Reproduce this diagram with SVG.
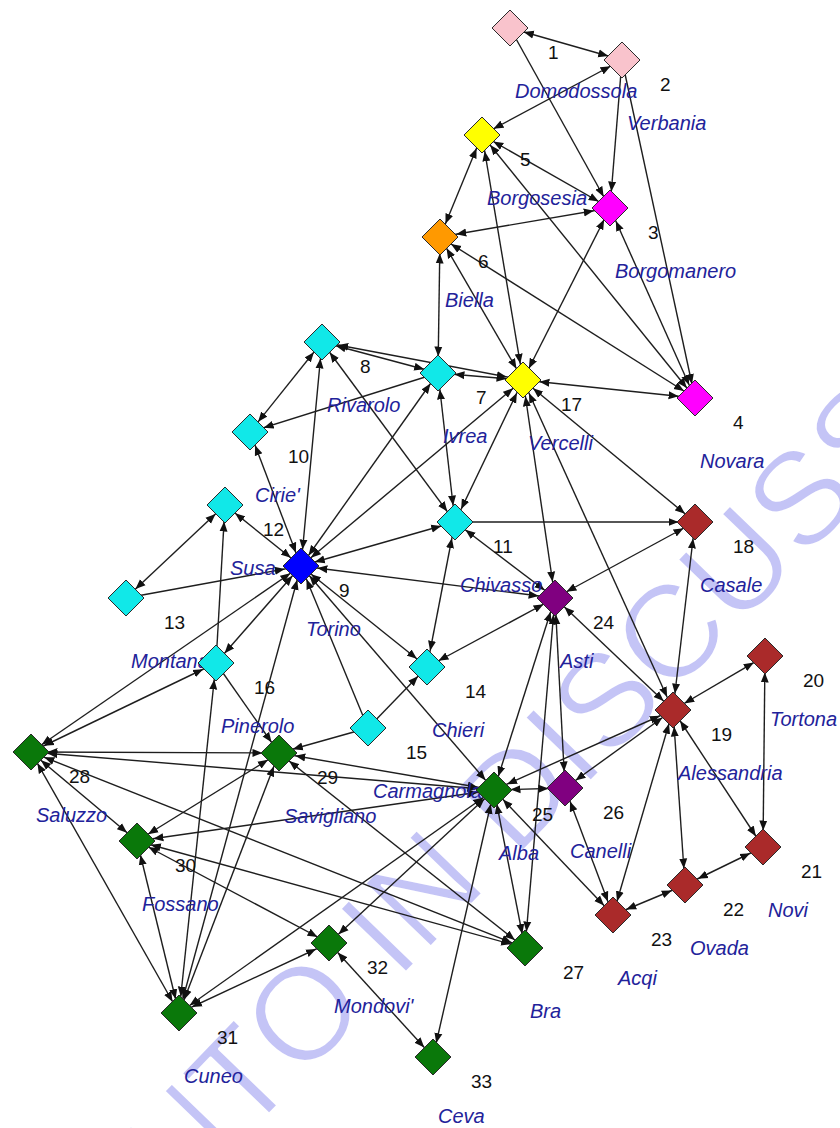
<svg xmlns="http://www.w3.org/2000/svg" width="840" height="1128" viewBox="0 0 840 1128">
<style>
.wm{font-family:"Liberation Sans",Arial,sans-serif;font-size:133px;fill:#c4c4f6;stroke:#fff;stroke-width:2.5;stroke-linejoin:round}
.e line{stroke:#1e1e1e;stroke-width:1.4;fill:none}
.h{marker-end:url(#mh)}.m{marker-end:url(#mm)}.a{marker-end:url(#ma)}
.d.h{marker-start:url(#mh)}.d.m{marker-start:url(#mm)}.d.a{marker-start:url(#ma)}
.node use{stroke:#2a2a2a;stroke-width:1}
.nm{font-family:"Liberation Sans",Arial,sans-serif;font-style:italic;font-size:20px;fill:#22229a}
.no{font-family:"Liberation Sans",Arial,sans-serif;font-size:19px;fill:#111}
.pk{fill:#f9c3cc}.mg{fill:#ff00ff}.yl{fill:#ffff00}.or{fill:#ff9900}.cy{fill:#11e8e8}.bl{fill:#0000ff}.pu{fill:#800080}.br{fill:#aa2a2a}.gr{fill:#0a780a}
</style>
<defs>
<path id="dm" d="M0,-18 L18,0 L0,18 L-18,0 Z"/>
<marker id="mh" viewBox="0 -4.5 10 9" refX="26.5" refY="0" markerWidth="10" markerHeight="9" markerUnits="userSpaceOnUse" orient="auto-start-reverse"><path d="M0,-4 L10,0 L0,4 Z" fill="#111"/></marker>
<marker id="mm" viewBox="0 -4.5 10 9" refX="24.3" refY="0" markerWidth="10" markerHeight="9" markerUnits="userSpaceOnUse" orient="auto-start-reverse"><path d="M0,-4 L10,0 L0,4 Z" fill="#111"/></marker>
<marker id="ma" viewBox="0 -4.5 10 9" refX="23" refY="0" markerWidth="10" markerHeight="9" markerUnits="userSpaceOnUse" orient="auto-start-reverse"><path d="M0,-4 L10,0 L0,4 Z" fill="#111"/></marker>
</defs>
<rect width="840" height="1128" fill="#fff"/>
<text class="wm" transform="translate(303,1010) rotate(-46)" x="-229" y="48">NTO IN DISCUSS</text>
<g id="connectors" class="e">
<line x1="510" y1="28" x2="622" y2="60" class="d m"/>
<line x1="510" y1="28" x2="610" y2="208" class="a"/>
<line x1="622" y1="60" x2="482" y2="135" class="d a"/>
<line x1="622" y1="60" x2="610" y2="208" class="h"/>
<line x1="622" y1="60" x2="695" y2="398" class="m"/>
<line x1="482" y1="135" x2="440" y2="237" class="d m"/>
<line x1="482" y1="135" x2="610" y2="208" class="d a"/>
<line x1="482" y1="135" x2="523" y2="380" class="d h"/>
<line x1="482" y1="135" x2="695" y2="398" class="d a"/>
<line x1="610" y1="208" x2="440" y2="237" class="d h"/>
<line x1="523" y1="380" x2="610" y2="208" class="d a"/>
<line x1="610" y1="208" x2="695" y2="398" class="d m"/>
<line x1="440" y1="237" x2="438" y2="373" class="d h"/>
<line x1="440" y1="237" x2="523" y2="380" class="d a"/>
<line x1="440" y1="237" x2="695" y2="398" class="d a"/>
<line x1="322" y1="342" x2="438" y2="373" class="d m"/>
<line x1="322" y1="342" x2="523" y2="380" class="d h"/>
<line x1="438" y1="373" x2="523" y2="380" class="d h"/>
<line x1="438" y1="373" x2="250" y2="432" class="m"/>
<line x1="438" y1="373" x2="455" y2="522" class="d h"/>
<line x1="301" y1="566" x2="438" y2="373" class="d a"/>
<line x1="523" y1="380" x2="695" y2="398" class="d h"/>
<line x1="523" y1="380" x2="695" y2="522" class="d a"/>
<line x1="523" y1="380" x2="555" y2="598" class="d h"/>
<line x1="523" y1="380" x2="673" y2="710" class="d m"/>
<line x1="523" y1="380" x2="455" y2="522" class="d m"/>
<line x1="301" y1="566" x2="523" y2="380" class="d a"/>
<line x1="322" y1="342" x2="250" y2="432" class="d a"/>
<line x1="322" y1="342" x2="301" y2="566" class="d h"/>
<line x1="322" y1="342" x2="455" y2="522" class="d a"/>
<line x1="250" y1="432" x2="301" y2="566" class="d m"/>
<line x1="225" y1="505" x2="301" y2="566" class="d a"/>
<line x1="225" y1="505" x2="126" y2="598" class="d a"/>
<line x1="216" y1="663" x2="225" y2="505" class="h"/>
<line x1="126" y1="598" x2="301" y2="566" class="h"/>
<line x1="301" y1="566" x2="455" y2="522" class="d m"/>
<line x1="301" y1="566" x2="555" y2="598" class="d h"/>
<line x1="301" y1="566" x2="427" y2="667" class="d a"/>
<line x1="301" y1="566" x2="494" y2="790" class="d a"/>
<line x1="368" y1="728" x2="301" y2="566" class="m"/>
<line x1="301" y1="566" x2="216" y2="663" class="d a"/>
<line x1="301" y1="566" x2="31" y2="752" class="d a"/>
<line x1="301" y1="566" x2="179" y2="1013" class="d m"/>
<line x1="455" y1="522" x2="695" y2="522" class="h"/>
<line x1="555" y1="598" x2="455" y2="522" class="d a"/>
<line x1="455" y1="522" x2="427" y2="667" class="d h"/>
<line x1="555" y1="598" x2="695" y2="522" class="d a"/>
<line x1="555" y1="598" x2="673" y2="710" class="d a"/>
<line x1="555" y1="598" x2="427" y2="667" class="d a"/>
<line x1="555" y1="598" x2="494" y2="790" class="d m"/>
<line x1="555" y1="598" x2="565" y2="788" class="d h"/>
<line x1="555" y1="598" x2="525" y2="948" class="d h"/>
<line x1="368" y1="728" x2="427" y2="667" class="a"/>
<line x1="368" y1="728" x2="279" y2="753" class="m"/>
<line x1="216" y1="663" x2="31" y2="752" class="d m"/>
<line x1="216" y1="663" x2="279" y2="753" class="a"/>
<line x1="216" y1="663" x2="179" y2="1013" class="d h"/>
<line x1="31" y1="752" x2="279" y2="753" class="d h"/>
<line x1="31" y1="752" x2="494" y2="790" class="d h"/>
<line x1="31" y1="752" x2="137" y2="841" class="d a"/>
<line x1="31" y1="752" x2="179" y2="1013" class="d a"/>
<line x1="31" y1="752" x2="525" y2="948" class="d m"/>
<line x1="279" y1="753" x2="137" y2="841" class="d a"/>
<line x1="279" y1="753" x2="494" y2="790" class="d h"/>
<line x1="279" y1="753" x2="525" y2="948" class="d a"/>
<line x1="279" y1="753" x2="179" y2="1013" class="d m"/>
<line x1="137" y1="841" x2="179" y2="1013" class="d m"/>
<line x1="137" y1="841" x2="494" y2="790" class="d h"/>
<line x1="137" y1="841" x2="525" y2="948" class="d m"/>
<line x1="137" y1="841" x2="329" y2="943" class="d a"/>
<line x1="494" y1="790" x2="565" y2="788" class="d h"/>
<line x1="494" y1="790" x2="673" y2="710" class="d m"/>
<line x1="494" y1="790" x2="613" y2="915" class="d a"/>
<line x1="494" y1="790" x2="525" y2="948" class="d m"/>
<line x1="494" y1="790" x2="433" y2="1057" class="d m"/>
<line x1="494" y1="790" x2="329" y2="943" class="d a"/>
<line x1="494" y1="790" x2="179" y2="1013" class="d a"/>
<line x1="565" y1="788" x2="613" y2="915" class="d m"/>
<line x1="673" y1="710" x2="565" y2="788" class="d a"/>
<line x1="673" y1="710" x2="765" y2="656" class="d a"/>
<line x1="673" y1="710" x2="763" y2="847" class="d a"/>
<line x1="673" y1="710" x2="685" y2="885" class="d h"/>
<line x1="673" y1="710" x2="613" y2="915" class="d m"/>
<line x1="673" y1="710" x2="695" y2="522" class="d h"/>
<line x1="765" y1="656" x2="763" y2="847" class="d h"/>
<line x1="763" y1="847" x2="685" y2="885" class="d m"/>
<line x1="685" y1="885" x2="613" y2="915" class="d m"/>
<line x1="179" y1="1013" x2="329" y2="943" class="d m"/>
<line x1="329" y1="943" x2="433" y2="1057" class="d a"/>
</g>
<g id="n1" class="node"><text class="nm" x="515" y="98">Domodossola</text><text class="no" x="548" y="59">1</text><use href="#dm" x="510" y="28" class="pk"/></g>
<g id="n2" class="node"><text class="nm" x="627" y="130">Verbania</text><text class="no" x="660" y="91">2</text><use href="#dm" x="622" y="60" class="pk"/></g>
<g id="n3" class="node"><text class="nm" x="615" y="278">Borgomanero</text><text class="no" x="648" y="239">3</text><use href="#dm" x="610" y="208" class="mg"/></g>
<g id="n4" class="node"><text class="nm" x="700" y="468">Novara</text><text class="no" x="733" y="429">4</text><use href="#dm" x="695" y="398" class="mg"/></g>
<g id="n5" class="node"><text class="nm" x="487" y="205">Borgosesia</text><text class="no" x="520" y="166">5</text><use href="#dm" x="482" y="135" class="yl"/></g>
<g id="n6" class="node"><text class="nm" x="445" y="307">Biella</text><text class="no" x="478" y="268">6</text><use href="#dm" x="440" y="237" class="or"/></g>
<g id="n7" class="node"><text class="nm" x="443" y="443">Ivrea</text><text class="no" x="476" y="404">7</text><use href="#dm" x="438" y="373" class="cy"/></g>
<g id="n8" class="node"><text class="nm" x="327" y="412">Rivarolo</text><text class="no" x="360" y="373">8</text><use href="#dm" x="322" y="342" class="cy"/></g>
<g id="n9" class="node"><text class="nm" x="306" y="636">Torino</text><text class="no" x="339" y="597">9</text><use href="#dm" x="301" y="566" class="bl"/></g>
<g id="n10" class="node"><text class="nm" x="255" y="502">Cirie'</text><text class="no" x="288" y="463">10</text><use href="#dm" x="250" y="432" class="cy"/></g>
<g id="n11" class="node"><text class="nm" x="460" y="592">Chivasso</text><text class="no" x="493" y="553">11</text><use href="#dm" x="455" y="522" class="cy"/></g>
<g id="n12" class="node"><text class="nm" x="230" y="575">Susa</text><text class="no" x="263" y="536">12</text><use href="#dm" x="225" y="505" class="cy"/></g>
<g id="n13" class="node"><text class="nm" x="131" y="668">Montanaro</text><text class="no" x="164" y="629">13</text><use href="#dm" x="126" y="598" class="cy"/></g>
<g id="n14" class="node"><text class="nm" x="432" y="737">Chieri</text><text class="no" x="465" y="698">14</text><use href="#dm" x="427" y="667" class="cy"/></g>
<g id="n15" class="node"><text class="nm" x="373" y="798">Carmagnola</text><text class="no" x="406" y="759">15</text><use href="#dm" x="368" y="728" class="cy"/></g>
<g id="n16" class="node"><text class="nm" x="221" y="733">Pinerolo</text><text class="no" x="254" y="694">16</text><use href="#dm" x="216" y="663" class="cy"/></g>
<g id="n17" class="node"><text class="nm" x="528" y="450">Vercelli</text><text class="no" x="561" y="411">17</text><use href="#dm" x="523" y="380" class="yl"/></g>
<g id="n18" class="node"><text class="nm" x="700" y="592">Casale</text><text class="no" x="733" y="553">18</text><use href="#dm" x="695" y="522" class="br"/></g>
<g id="n19" class="node"><text class="nm" x="678" y="780">Alessandria</text><text class="no" x="711" y="741">19</text><use href="#dm" x="673" y="710" class="br"/></g>
<g id="n20" class="node"><text class="nm" x="770" y="726">Tortona</text><text class="no" x="803" y="687">20</text><use href="#dm" x="765" y="656" class="br"/></g>
<g id="n21" class="node"><text class="nm" x="768" y="917">Novi</text><text class="no" x="801" y="878">21</text><use href="#dm" x="763" y="847" class="br"/></g>
<g id="n22" class="node"><text class="nm" x="690" y="955">Ovada</text><text class="no" x="723" y="916">22</text><use href="#dm" x="685" y="885" class="br"/></g>
<g id="n23" class="node"><text class="nm" x="618" y="985">Acqi</text><text class="no" x="651" y="946">23</text><use href="#dm" x="613" y="915" class="br"/></g>
<g id="n24" class="node"><text class="nm" x="560" y="668">Asti</text><text class="no" x="593" y="629">24</text><use href="#dm" x="555" y="598" class="pu"/></g>
<g id="n25" class="node"><text class="nm" x="499" y="860">Alba</text><text class="no" x="532" y="821">25</text><use href="#dm" x="494" y="790" class="gr"/></g>
<g id="n26" class="node"><text class="nm" x="570" y="858">Canelli</text><text class="no" x="603" y="819">26</text><use href="#dm" x="565" y="788" class="pu"/></g>
<g id="n27" class="node"><text class="nm" x="530" y="1018">Bra</text><text class="no" x="563" y="979">27</text><use href="#dm" x="525" y="948" class="gr"/></g>
<g id="n28" class="node"><text class="nm" x="36" y="822">Saluzzo</text><text class="no" x="69" y="783">28</text><use href="#dm" x="31" y="752" class="gr"/></g>
<g id="n29" class="node"><text class="nm" x="284" y="823">Savigliano</text><text class="no" x="317" y="784">29</text><use href="#dm" x="279" y="753" class="gr"/></g>
<g id="n30" class="node"><text class="nm" x="142" y="911">Fossano</text><text class="no" x="175" y="872">30</text><use href="#dm" x="137" y="841" class="gr"/></g>
<g id="n31" class="node"><text class="nm" x="184" y="1083">Cuneo</text><text class="no" x="217" y="1044">31</text><use href="#dm" x="179" y="1013" class="gr"/></g>
<g id="n32" class="node"><text class="nm" x="334" y="1013">Mondovi'</text><text class="no" x="367" y="974">32</text><use href="#dm" x="329" y="943" class="gr"/></g>
<g id="n33" class="node"><text class="nm" x="438" y="1123">Ceva</text><text class="no" x="471" y="1088">33</text><use href="#dm" x="433" y="1057" class="gr"/></g>
</svg>
